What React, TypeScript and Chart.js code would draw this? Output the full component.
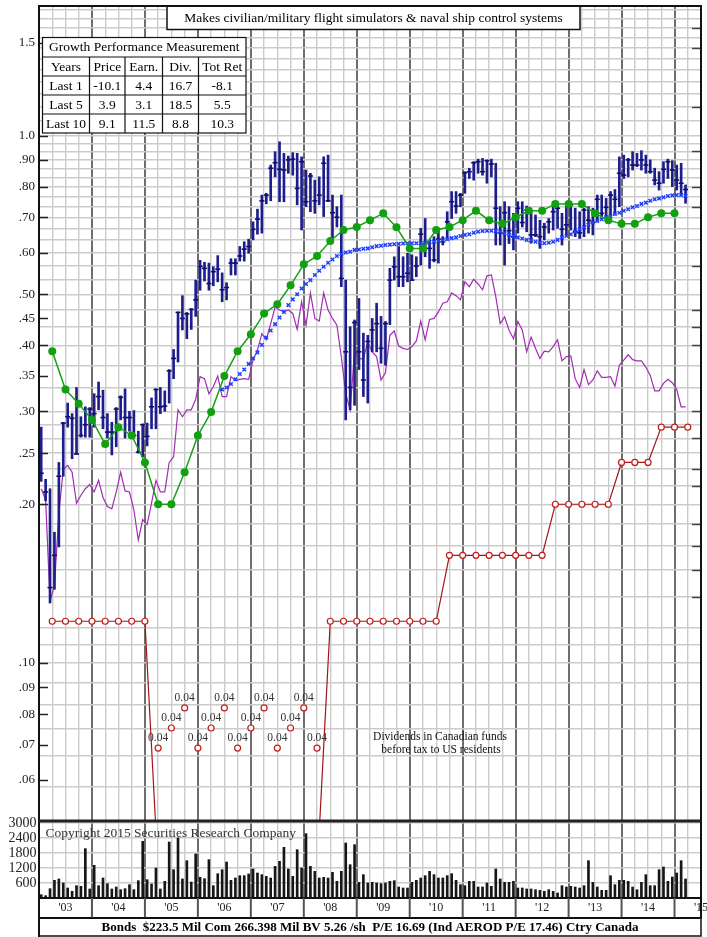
import React, { useEffect, useRef } from 'react';
import { Chart, registerables } from 'chart.js';

Chart.register(...registerables);

const SERIF = '"Liberation Serif", "Times New Roman", Times, serif';

// ---------------- data ----------------
const firstYear = 2003;
const axisEndYear = 2015.5;
const yearTickLabels = ["'03", "'04", "'05", "'06", "'07", "'08", "'09", "'10", "'11", "'12", "'13", "'14", "'15"];

// monthly price range, Jan 2003 .. Mar 2015
const priceHigh = [
  0.280, 0.223, 0.214, 0.177, 0.240, 0.286, 0.311, 0.297, 0.333, 0.293, 0.306, 0.305,
  0.324, 0.341, 0.329, 0.297, 0.286, 0.305, 0.321, 0.331, 0.300, 0.301, 0.275, 0.284,
  0.285, 0.318, 0.331, 0.333, 0.328, 0.360, 0.393, 0.463, 0.497, 0.462, 0.470, 0.532,
  0.580, 0.575, 0.573, 0.564, 0.592, 0.549, 0.526, 0.584, 0.584, 0.616, 0.629, 0.636,
  0.686, 0.725, 0.771, 0.777, 0.879, 0.932, 0.973, 0.925, 0.914, 0.928, 0.925, 0.911,
  0.860, 0.848, 0.823, 0.835, 0.911, 0.918, 0.771, 0.733, 0.771, 0.532, 0.434, 0.447,
  0.491, 0.422, 0.418, 0.450, 0.481, 0.454, 0.444, 0.560, 0.589, 0.616, 0.589, 0.598,
  0.594, 0.589, 0.667, 0.696, 0.634, 0.643, 0.667, 0.643, 0.717, 0.783, 0.783, 0.777,
  0.854, 0.867, 0.892, 0.902, 0.905, 0.899, 0.902, 0.886, 0.733, 0.749, 0.733, 0.712,
  0.749, 0.749, 0.735, 0.717, 0.707, 0.691, 0.682, 0.696, 0.749, 0.739, 0.712, 0.739,
  0.749, 0.728, 0.717, 0.728, 0.733, 0.728, 0.771, 0.771, 0.760, 0.783, 0.790, 0.911,
  0.918, 0.905, 0.932, 0.925, 0.936, 0.918, 0.899, 0.867, 0.854, 0.892, 0.902, 0.896,
  0.879, 0.886, 0.806
];
const priceLow = [
  0.221, 0.203, 0.130, 0.138, 0.166, 0.226, 0.280, 0.244, 0.249, 0.268, 0.268, 0.268,
  0.280, 0.302, 0.278, 0.267, 0.248, 0.257, 0.289, 0.267, 0.275, 0.268, 0.250, 0.246,
  0.258, 0.278, 0.278, 0.297, 0.300, 0.311, 0.346, 0.372, 0.428, 0.412, 0.429, 0.454,
  0.509, 0.530, 0.509, 0.519, 0.528, 0.484, 0.488, 0.544, 0.544, 0.578, 0.578, 0.598,
  0.634, 0.650, 0.653, 0.742, 0.752, 0.835, 0.749, 0.749, 0.848, 0.841, 0.739, 0.662,
  0.733, 0.717, 0.712, 0.739, 0.702, 0.749, 0.638, 0.671, 0.517, 0.289, 0.302, 0.308,
  0.360, 0.320, 0.311, 0.389, 0.389, 0.370, 0.367, 0.438, 0.532, 0.517, 0.517, 0.528,
  0.532, 0.540, 0.568, 0.589, 0.560, 0.576, 0.573, 0.620, 0.634, 0.696, 0.712, 0.733,
  0.777, 0.829, 0.823, 0.848, 0.841, 0.812, 0.835, 0.620, 0.620, 0.568, 0.624, 0.607,
  0.653, 0.671, 0.657, 0.625, 0.643, 0.611, 0.634, 0.653, 0.662, 0.667, 0.620, 0.648,
  0.662, 0.643, 0.638, 0.643, 0.653, 0.648, 0.686, 0.702, 0.691, 0.707, 0.707, 0.733,
  0.829, 0.835, 0.860, 0.873, 0.860, 0.848, 0.848, 0.806, 0.788, 0.812, 0.829, 0.800,
  0.788, 0.771, 0.744
];
const priceClose = [
  0.229, 0.211, 0.139, 0.160, 0.226, 0.285, 0.293, 0.291, 0.249, 0.270, 0.283, 0.303,
  0.297, 0.320, 0.292, 0.274, 0.274, 0.303, 0.319, 0.292, 0.292, 0.270, 0.251, 0.283,
  0.269, 0.306, 0.330, 0.306, 0.307, 0.358, 0.378, 0.462, 0.450, 0.459, 0.468, 0.488,
  0.565, 0.560, 0.524, 0.552, 0.558, 0.510, 0.515, 0.573, 0.573, 0.591, 0.609, 0.616,
  0.664, 0.694, 0.752, 0.771, 0.867, 0.888, 0.863, 0.860, 0.899, 0.902, 0.794, 0.892,
  0.749, 0.838, 0.752, 0.771, 0.886, 0.752, 0.714, 0.700, 0.536, 0.389, 0.333, 0.442,
  0.389, 0.344, 0.407, 0.428, 0.440, 0.395, 0.440, 0.532, 0.564, 0.540, 0.540, 0.548,
  0.532, 0.566, 0.650, 0.624, 0.611, 0.581, 0.636, 0.629, 0.686, 0.749, 0.735, 0.771,
  0.850, 0.854, 0.888, 0.892, 0.854, 0.896, 0.883, 0.728, 0.653, 0.714, 0.660, 0.643,
  0.728, 0.684, 0.722, 0.648, 0.648, 0.643, 0.671, 0.686, 0.717, 0.728, 0.664, 0.677,
  0.739, 0.657, 0.654, 0.722, 0.691, 0.686, 0.757, 0.712, 0.731, 0.771, 0.757, 0.848,
  0.841, 0.899, 0.879, 0.879, 0.899, 0.879, 0.854, 0.823, 0.812, 0.863, 0.892, 0.860,
  0.823, 0.812, 0.790
];
const relativeStrength = [
  0.214, 0.204, 0.131, 0.140, 0.192, 0.233, 0.237, 0.230, 0.201, 0.208, 0.214, 0.218,
  0.211, 0.222, 0.206, 0.198, 0.196, 0.211, 0.230, 0.212, 0.211, 0.195, 0.171, 0.187,
  0.183, 0.201, 0.222, 0.211, 0.211, 0.240, 0.246, 0.302, 0.293, 0.302, 0.302, 0.316,
  0.349, 0.346, 0.324, 0.334, 0.350, 0.320, 0.320, 0.349, 0.343, 0.345, 0.346, 0.345,
  0.375, 0.392, 0.421, 0.410, 0.440, 0.473, 0.467, 0.463, 0.467, 0.460, 0.429, 0.484,
  0.437, 0.503, 0.450, 0.445, 0.503, 0.467, 0.450, 0.437, 0.381, 0.324, 0.302, 0.389,
  0.377, 0.378, 0.406, 0.389, 0.381, 0.344, 0.355, 0.418, 0.426, 0.399, 0.395, 0.393,
  0.398, 0.408, 0.445, 0.410, 0.448, 0.450, 0.463, 0.481, 0.484, 0.503, 0.497, 0.488,
  0.528, 0.517, 0.534, 0.523, 0.510, 0.542, 0.544, 0.495, 0.440, 0.453, 0.428, 0.412,
  0.444, 0.428, 0.389, 0.415, 0.395, 0.378, 0.390, 0.389, 0.398, 0.410, 0.374, 0.381,
  0.382, 0.346, 0.333, 0.360, 0.337, 0.344, 0.358, 0.348, 0.348, 0.349, 0.335, 0.367,
  0.375, 0.384, 0.376, 0.374, 0.374, 0.364, 0.351, 0.328, 0.328, 0.339, 0.345, 0.340,
  0.330, 0.306, 0.306
];
// moving average, starts Jun 2006
const maStartMonth = 41;
const movingAverage = [
  0.330, 0.333, 0.338, 0.345, 0.353, 0.360, 0.369, 0.378, 0.388, 0.401,
  0.414, 0.427, 0.439, 0.452, 0.463, 0.477, 0.489, 0.500, 0.513, 0.523,
  0.532, 0.544, 0.554, 0.564, 0.574, 0.582, 0.591, 0.596, 0.600, 0.602,
  0.607, 0.608, 0.610, 0.611, 0.614, 0.617, 0.618, 0.620, 0.621, 0.622,
  0.623, 0.624, 0.625, 0.625, 0.625, 0.625, 0.626, 0.628, 0.629, 0.631,
  0.633, 0.636, 0.639, 0.641, 0.645, 0.648, 0.650, 0.654, 0.657, 0.659,
  0.660, 0.660, 0.659, 0.657, 0.652, 0.648, 0.645, 0.641, 0.638, 0.634,
  0.633, 0.629, 0.626, 0.625, 0.626, 0.629, 0.634, 0.641, 0.645, 0.650,
  0.657, 0.664, 0.670, 0.677, 0.684, 0.689, 0.694, 0.700, 0.703, 0.710,
  0.714, 0.720, 0.725, 0.731, 0.735, 0.742, 0.746, 0.752, 0.757, 0.760,
  0.764, 0.768, 0.770, 0.771, 0.771, 0.768
];
// quarterly earnings line, from Q1 2003 (plotted at quarter end)
const earningsLine = [
  0.390, 0.330, 0.310, 0.289, 0.260, 0.280, 0.270, 0.240,
  0.200, 0.200, 0.230, 0.270, 0.299, 0.350, 0.390, 0.420,
  0.460, 0.479, 0.520, 0.570, 0.591, 0.631, 0.662, 0.671,
  0.691, 0.712, 0.670, 0.611, 0.611, 0.662, 0.671, 0.691,
  0.720, 0.691, 0.680, 0.700, 0.720, 0.720, 0.742, 0.742,
  0.742, 0.712, 0.691, 0.680, 0.680, 0.700, 0.712, 0.712
];
// quarterly dividend line, from Q1 2003
const dividendRate = [
  0.12, 0.12, 0.12, 0.12, 0.12, 0.12, 0.12, 0.12,
  0.04, 0.04, 0.04, 0.04, 0.04, 0.04, 0.04, 0.04, 0.04, 0.04, 0.04, 0.04, 0.04,
  0.12, 0.12, 0.12, 0.12, 0.12, 0.12, 0.12, 0.12, 0.12,
  0.16, 0.16, 0.16, 0.16, 0.16, 0.16, 0.16, 0.16,
  0.20, 0.20, 0.20, 0.20, 0.20,
  0.24, 0.24, 0.24,
  0.28, 0.28, 0.28
];
// off-scale dividends are marked at staggered levels with their value
const dividendNoteStart = 8;
const dividendNoteValue = 0.04;
const dividendNoteLevels = [0.069, 0.0753, 0.0822, 0.069, 0.0753, 0.0822, 0.069, 0.0753, 0.0822, 0.069, 0.0753, 0.0822, 0.069];

const monthlyVolume = [
  133, 93, 373, 707, 760, 600, 400, 267, 493, 467, 1973, 360,
  1307, 493, 800, 573, 360, 440, 333, 373, 533, 333, 693, 2267,
  733, 560, 1200, 360, 667, 2240, 1133, 2400, 760, 1493, 640, 1760,
  827, 773, 1533, 493, 973, 1133, 1440, 707, 800, 893, 893, 960,
  1160, 1000, 933, 867, 800, 1267, 1467, 2027, 1160, 867, 1933, 1200,
  2573, 1267, 1067, 800, 827, 800, 1027, 667, 1067, 2200, 1333, 2133,
  627, 933, 600, 627, 600, 573, 600, 667, 693, 440, 400, 400,
  627, 707, 800, 893, 1067, 933, 800, 800, 893, 973, 707, 533,
  493, 667, 667, 440, 440, 600, 467, 1160, 760, 627, 627, 667,
  400, 400, 360, 360, 333, 307, 267, 333, 267, 200, 493, 440,
  467, 440, 400, 493, 1493, 627, 440, 307, 307, 893, 533, 707,
  707, 667, 440, 333, 627, 933, 493, 493, 1133, 1240, 667, 840,
  1000, 1493, 760
];

const priceAxisTicks = [1.5, 1.0, 0.9, 0.8, 0.7, 0.6, 0.5, 0.45, 0.4, 0.35, 0.3, 0.25, 0.2, 0.1, 0.09, 0.08, 0.07, 0.06];
const priceAxisText = ['1.5', '1.0', '.90', '.80', '.70', '.60', '.50', '.45', '.40', '.35', '.30', '.25', '.20', '.10', '.09', '.08', '.07', '.06'];
// right-hand scale marks (their labels fall outside the picture)
const rightAxisMarks = [1.6, 1.4667, 1.1333, 0.9333, 0.8, 0.7333, 0.5667, 0.4667, 0.4333, 0.4, 0.3, 0.2667, 0.2333, 0.2167, 0.1833, 0.1667, 0.15, 0.1333];
const volumeAxisTicks = [600, 1200, 1800, 2400, 3000];

const growthTitle = 'Growth Performance Measurement';
const growthHeaders = ['Years', 'Price', 'Earn.', 'Div.', 'Tot Ret'];
const growthYears = ['Last 1', 'Last 5', 'Last 10'];
const growthPrice = [-10.1, 3.9, 9.1];
const growthEarn = [4.4, 3.1, 11.5];
const growthDiv = [16.7, 18.5, 8.8];
const growthTotRet = [-8.1, 5.5, 10.3];

const titleText = 'Makes civilian/military flight simulators & naval ship control systems';
const noteLines = ['Dividends in Canadian funds', 'before tax to US residents'];
const copyrightText = 'Copyright 2015 Securities Research Company';
const footerText = 'Bonds  $223.5 Mil Com 266.398 Mil BV 5.26 /sh  P/E 16.69 (Ind AEROD P/E 17.46) Ctry Canada';

// ---------------- helpers ----------------
const monthX = (i: number) => firstYear + (i + 0.5) / 12;
const quarterX = (i: number) => firstYear + (i + 1) / 4;
const near = (a: number, b: number) => Math.abs(a - b) < 1e-6;
const isYear = (v: number) => near(v, Math.round(v));

const quarterTicks: number[] = [];
for (let v = firstYear; v <= axisEndYear + 1e-9; v += 0.25) quarterTicks.push(+v.toFixed(2));

// price grid: finer steps as the price falls
const priceGrid: number[] = [];
for (let k = 1; k <= 11; k++) priceGrid.push(1 + k / 15);
for (let k = 0; k <= 21; k++) priceGrid.push(1 - k / 30);
for (let k = 1; k <= 11; k++) priceGrid.push(0.3 - k / 60);
for (let k = 1; k <= 7; k++) priceGrid.push(0.3 - 11 / 60 - k / 120);
const inGrid = (v: number) => priceGrid.some((g) => Math.abs(g - v) < 1e-4);
const priceTicks = [...priceGrid, ...priceAxisTicks.filter((v) => !inGrid(v))].sort((a, b) => b - a);

const GRID = '#cbcbcb';
const YEARLINE = '#6e6e6e';
const VOL_TOP_PAD = 16;

function line(ctx: CanvasRenderingContext2D, x1: number, y1: number, x2: number, y2: number) {
  ctx.beginPath();
  ctx.moveTo(x1, y1);
  ctx.lineTo(x2, y2);
  ctx.stroke();
}

function noPadding(s: any) {
  s.paddingTop = 0;
  s.paddingBottom = 0;
  s.paddingLeft = 0;
  s.paddingRight = 0;
}

const priceDecor = {
  id: 'priceDecor',
  afterDraw(chart: any) {
    const { ctx, chartArea: a, scales } = chart;
    const ys = scales.y;
    ctx.save();

    // short axis marks at labelled values (left) and right scale marks
    ctx.strokeStyle = '#222';
    ctx.lineWidth = 1.5;
    priceAxisTicks.forEach((v) => {
      const py = Math.round(ys.getPixelForValue(v)) + 0.5;
      line(ctx, a.left, py, a.left + 9, py);
    });
    ctx.strokeStyle = '#444';
    rightAxisMarks.forEach((v) => {
      const py = Math.round(ys.getPixelForValue(v)) + 0.5;
      line(ctx, a.right - 9, py, a.right, py);
    });

    // notes for off-scale dividends
    const idx = chart.data.datasets.findIndex((d: any) => d.label === 'divNote');
    const meta = chart.getDatasetMeta(idx);
    ctx.font = `11.5px ${SERIF}`;
    ctx.fillStyle = '#333';
    ctx.textAlign = 'center';
    ctx.textBaseline = 'middle';
    meta.data.forEach((pt: any) => ctx.fillText(dividendNoteValue.toFixed(2), pt.x, pt.y - 10));

    ctx.fillStyle = '#111';
    ctx.fillText(noteLines[0], 440, 737);
    ctx.fillText(noteLines[1], 441, 750);

    // title box
    ctx.fillStyle = '#fff';
    ctx.fillRect(167, 6, 413, 23.5);
    ctx.strokeStyle = '#111';
    ctx.lineWidth = 1.5;
    ctx.strokeRect(167, 6, 413, 23.5);
    ctx.fillStyle = '#000';
    ctx.font = `13.5px ${SERIF}`;
    ctx.fillText(titleText, 373.5, 18.5);

    // growth table
    const tx0 = 42.5, tx1 = 246;
    const rows = [37.5, 57, 76, 95, 114, 133];
    const cols = [42.5, 89.5, 125, 162.5, 198.5, 246];
    ctx.fillStyle = '#fff';
    ctx.fillRect(tx0, rows[0], tx1 - tx0, rows[5] - rows[0]);
    ctx.strokeStyle = '#111';
    ctx.lineWidth = 1.2;
    ctx.strokeRect(tx0, rows[0], tx1 - tx0, rows[5] - rows[0]);
    for (let r = 1; r < 5; r++) line(ctx, tx0, rows[r], tx1, rows[r]);
    for (let c = 1; c < 5; c++) line(ctx, cols[c], rows[1], cols[c], rows[5]);
    ctx.fillStyle = '#000';
    ctx.font = `13.5px ${SERIF}`;
    ctx.fillText(growthTitle, (tx0 + tx1) / 2, (rows[0] + rows[1]) / 2 + 0.5);
    const colC = (c: number) => (cols[c] + cols[c + 1]) / 2;
    const rowC = (r: number) => (rows[r] + rows[r + 1]) / 2 + 0.5;
    growthHeaders.forEach((h, c) => ctx.fillText(h, colC(c), rowC(1)));
    growthYears.forEach((yl, r) => {
      ctx.fillText(yl, colC(0), rowC(r + 2));
      ctx.fillText(growthPrice[r].toFixed(1), colC(1), rowC(r + 2));
      ctx.fillText(growthEarn[r].toFixed(1), colC(2), rowC(r + 2));
      ctx.fillText(growthDiv[r].toFixed(1), colC(3), rowC(r + 2));
      ctx.fillText(growthTotRet[r].toFixed(1), colC(4), rowC(r + 2));
    });

    // frame
    ctx.strokeStyle = '#111';
    ctx.lineWidth = 2;
    ctx.beginPath();
    ctx.moveTo(a.left, chart.height);
    ctx.lineTo(a.left, a.top);
    ctx.lineTo(a.right, a.top);
    ctx.lineTo(a.right, chart.height);
    ctx.stroke();
    ctx.fillStyle = '#222';
    ctx.fillRect(a.left, a.bottom - 0.5, a.right - a.left, 2);
    ctx.restore();
  },
};

const volumeDecor = {
  id: 'volumeDecor',
  afterDraw(chart: any) {
    const { ctx, chartArea: a, scales } = chart;
    const xs = scales.x;
    const H = chart.height;
    ctx.save();
    ctx.font = `13.5px ${SERIF}`;
    ctx.fillStyle = '#333';
    ctx.textAlign = 'left';
    ctx.textBaseline = 'middle';
    ctx.fillText(copyrightText, 45.5, a.top + 12);

    ctx.strokeStyle = '#111';
    ctx.lineWidth = 2;
    const sTop = a.bottom, sBot = a.bottom + 20;
    line(ctx, a.left, sTop, a.right, sTop);
    line(ctx, a.left, sBot, a.right, sBot);
    ctx.strokeStyle = '#555';
    for (let y = firstYear + 1; y <= Math.floor(axisEndYear); y++) {
      const px = xs.getPixelForValue(y);
      line(ctx, px, sTop, px, sBot);
    }
    ctx.strokeStyle = '#111';
    ctx.lineWidth = 1.5;
    ctx.strokeRect(a.left, sBot, a.right - a.left, H - sBot - 1);
    ctx.font = `bold 13px ${SERIF}`;
    ctx.fillStyle = '#000';
    ctx.textAlign = 'center';
    ctx.fillText(footerText, (a.left + a.right) / 2, (sBot + H) / 2);

    ctx.lineWidth = 2;
    line(ctx, a.left, a.top, a.left, H);
    line(ctx, a.right, a.top, a.right, sBot);
    ctx.fillStyle = '#222';
    ctx.fillRect(a.left, a.top, a.right - a.left, 1.5);
    ctx.restore();
  },
};

function xScale(showLabels: boolean, height: number) {
  return {
    type: 'linear',
    min: firstYear,
    max: axisEndYear,
    bounds: 'data',
    offset: false,
    position: 'bottom',
    border: { display: false },
    grid: {
      offset: false,
      drawTicks: false,
      color: (c: any) => (c.tick && isYear(c.tick.value) ? YEARLINE : GRID),
      lineWidth: (c: any) => (c.tick && isYear(c.tick.value) ? 2 : 1.4),
    },
    ticks: {
      display: showLabels,
      autoSkip: false,
      maxRotation: 0,
      padding: 3,
      color: '#222',
      font: { family: SERIF, size: 12 },
      callback: (v: number) => {
        const frac = v - Math.floor(v);
        if (!near(frac, 0.5)) return '';
        return yearTickLabels[Math.floor(v) - firstYear] ?? '';
      },
    },
    afterBuildTicks: (s: any) => {
      s.ticks = quarterTicks.map((v) => ({ value: v }));
    },
    afterFit: (s: any) => {
      s.height = height;
      noPadding(s);
    },
  };
}

function priceConfig(): any {
  const circle = {
    pointStyle: 'circle',
    pointRadius: 3,
    pointBackgroundColor: '#fff',
    pointBorderColor: '#c21d1d',
    pointBorderWidth: 1.2,
  };
  return {
    type: 'bar',
    data: {
      datasets: [
        {
          type: 'line',
          label: 'earnings',
          data: earningsLine.map((v, i) => ({ x: quarterX(i), y: v })),
          borderColor: '#17a017',
          borderWidth: 1.5,
          pointRadius: 4,
          pointBackgroundColor: '#10a010',
          pointBorderWidth: 0,
          order: 1,
        },
        {
          type: 'line',
          label: 'ma',
          data: movingAverage.map((v, i) => ({ x: monthX(i + maStartMonth), y: v })),
          showLine: false,
          pointStyle: 'crossRot',
          pointRadius: 2.5,
          pointBorderColor: '#1f3fff',
          pointBorderWidth: 1.5,
          order: 2,
        },
        {
          type: 'scatter',
          label: 'close',
          data: priceClose.map((v, i) => ({ x: monthX(i), y: v })),
          pointStyle: 'line',
          pointRadius: 2.5,
          pointBorderColor: '#0e0e72',
          pointBorderWidth: 1.6,
          order: 3,
        },
        {
          type: 'bar',
          label: 'range',
          data: priceHigh.map((h, i) => ({ x: monthX(i), y: [priceLow[i], h] })),
          backgroundColor: '#1d1d8c',
          barThickness: 2,
          order: 4,
        },
        {
          type: 'line',
          label: 'rs',
          data: relativeStrength.map((v, i) => ({ x: monthX(i), y: v })),
          borderColor: '#a22cb2',
          borderWidth: 1.2,
          pointRadius: 0,
          order: 5,
        },
        {
          type: 'line',
          label: 'div',
          data: dividendRate.map((v, i) => ({ x: quarterX(i), y: v })),
          borderColor: '#a31515',
          borderWidth: 1.2,
          ...circle,
          order: 6,
        },
        {
          type: 'scatter',
          label: 'divNote',
          data: dividendNoteLevels.map((v, i) => ({ x: quarterX(i + dividendNoteStart), y: v })),
          ...circle,
          order: 6,
        },
      ],
    },
    options: {
      animation: false,
      responsive: false,
      maintainAspectRatio: false,
      events: [],
      layout: { autoPadding: false, padding: { left: 0, right: 6, top: 6, bottom: 1 } },
      plugins: { legend: { display: false }, tooltip: { enabled: false } },
      scales: {
        x: xScale(false, 0),
        y: {
          type: 'logarithmic',
          min: 0.0504,
          max: 1.76,
          bounds: 'data',
          position: 'left',
          border: { display: false },
          grid: {
            drawTicks: false,
            color: (c: any) => (c.tick && inGrid(c.tick.value) ? GRID : 'rgba(0,0,0,0)'),
            lineWidth: 1.4,
          },
          ticks: {
            autoSkip: false,
            padding: 4,
            color: '#222',
            font: { family: SERIF, size: 13 },
            callback: (v: number) => {
              const i = priceAxisTicks.findIndex((t) => Math.abs(t - v) < 1e-6);
              return i >= 0 ? priceAxisText[i] : '';
            },
          },
          afterBuildTicks: (s: any) => {
            s.ticks = priceTicks.map((v) => ({ value: v }));
          },
          afterFit: (s: any) => {
            s.width = 39;
            noPadding(s);
          },
        },
      },
    },
    plugins: [priceDecor],
  };
}

function volumeConfig(): any {
  return {
    type: 'bar',
    data: {
      datasets: [
        {
          label: 'volume',
          data: monthlyVolume.map((v, i) => ({ x: monthX(i), y: v })),
          backgroundColor: '#161616',
          barThickness: 2,
        },
      ],
    },
    options: {
      animation: false,
      responsive: false,
      maintainAspectRatio: false,
      events: [],
      layout: { autoPadding: false, padding: { left: 0, right: 6, top: VOL_TOP_PAD, bottom: 19 } },
      plugins: { legend: { display: false }, tooltip: { enabled: false } },
      scales: {
        x: xScale(true, 20),
        y: {
          type: 'linear',
          min: 0,
          max: 3080,
          bounds: 'data',
          position: 'left',
          border: { display: false },
          grid: { drawTicks: false, color: GRID, lineWidth: 1.4 },
          ticks: {
            autoSkip: false,
            padding: 2.5,
            color: '#222',
            font: { family: SERIF, size: 14 },
            callback: (v: number) => String(v),
          },
          afterBuildTicks: (s: any) => {
            s.ticks = volumeAxisTicks.map((v) => ({ value: v }));
          },
          afterFit: (s: any) => {
            s.width = 39;
            noPadding(s);
          },
        },
      },
    },
    plugins: [volumeDecor],
  };
}

export default function App() {
  const priceRef = useRef<HTMLCanvasElement>(null);
  const volRef = useRef<HTMLCanvasElement>(null);
  useEffect(() => {
    const c1 = new Chart(priceRef.current as HTMLCanvasElement, priceConfig());
    const c2 = new Chart(volRef.current as HTMLCanvasElement, volumeConfig());
    return () => {
      c1.destroy();
      c2.destroy();
    };
  }, []);
  const volTop = 821 - VOL_TOP_PAD;
  const volH = 937 - volTop;
  return (
    <div style={{ position: 'fixed', left: 0, top: 0, width: 707, height: 937, background: '#fff' }}>
      <canvas ref={priceRef} width={707} height={821} style={{ position: 'absolute', left: 0, top: 0, width: 707, height: 821 }} />
      <canvas ref={volRef} width={707} height={volH} style={{ position: 'absolute', left: 0, top: volTop, width: 707, height: volH }} />
    </div>
  );
}
